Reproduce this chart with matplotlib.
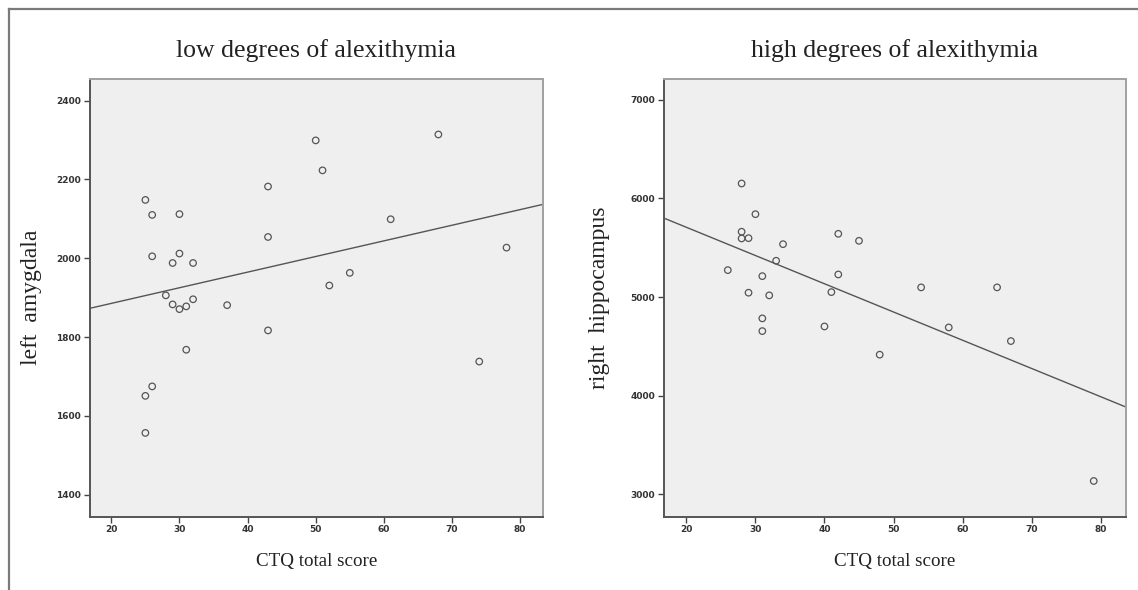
import numpy as np
import matplotlib
matplotlib.use('Agg')
import matplotlib.pyplot as plt
from matplotlib.lines import Line2D

# ---------------- data ----------------
low_ctq = [25, 26, 30, 26, 30, 29, 32, 43, 43, 50, 51, 68, 61, 78, 55, 52,
           28, 29, 30, 31, 32, 37, 43, 31, 74, 26, 25, 25]
low_amygdala = [2148, 2110, 2112, 2005, 2012, 1988, 1988, 2182, 2054, 2299, 2223,
                2314, 2099, 2027, 1963, 1931, 1906, 1883, 1871, 1878, 1896, 1881,
                1817, 1768, 1738, 1675, 1651, 1557]

high_ctq = [28, 30, 28, 28, 29, 34, 33, 26, 31, 42, 45, 42, 54, 65, 29, 32, 41,
            31, 31, 40, 48, 58, 67, 79]
high_hippocampus = [6152, 5841, 5663, 5595, 5598, 5537, 5369, 5274, 5213, 5642,
                    5571, 5230, 5099, 5099, 5045, 5018, 5051, 4785, 4656, 4703,
                    4417, 4693, 4555, 3137]

x_ticks = [20, 30, 40, 50, 60, 70, 80]
low_yticks = [1400, 1600, 1800, 2000, 2200, 2400]
high_yticks = [3000, 4000, 5000, 6000, 7000]

titles = ["low degrees of alexithymia", "high degrees of alexithymia"]
ylabels = ["left  amygdala", "right  hippocampus"]
xlabel = "CTQ total score"

# ---------------- layout ----------------
W, H = 1138, 590
fig = plt.figure(figsize=(W / 100, H / 100), dpi=100)
fig.patch.set_facecolor('white')

def fx(px):
    return px / W

def fy(py):
    return 1 - py / H

serif = ['Liberation Serif', 'DejaVu Serif']

panels = [
    dict(left=89.5, right=543.3, xlim=(16.8, 83.4), ylim=(1345, 2456),
         x=low_ctq, y=low_amygdala, yticks=low_yticks, title=titles[0],
         ylabel=ylabels[0], ylabel_x=31),
    dict(left=663.6, right=1125.5, xlim=(16.7, 83.6), ylim=(2777, 7216),
         x=high_ctq, y=high_hippocampus, yticks=high_yticks, title=titles[1],
         ylabel=ylabels[1], ylabel_x=600),
]
top, bottom = 78.5, 516.5

for p in panels:
    ax = fig.add_axes([fx(p['left']), fy(bottom), fx(p['right'] - p['left']),
                       (bottom - top) / H])
    ax.set_facecolor('#efefef')
    ax.set_xlim(*p['xlim'])
    ax.set_ylim(*p['ylim'])
    ax.set_xticks(x_ticks)
    ax.set_yticks(p['yticks'])
    ax.tick_params(direction='out', length=4.5, width=1.0, color='#444444',
                   labelsize=6.5, labelcolor='#333333', pad=1.5)
    for lab in ax.get_xticklabels() + ax.get_yticklabels():
        lab.set_fontweight('bold')
        lab.set_family('DejaVu Sans')
    for side in ['left', 'bottom']:
        ax.spines[side].set_color('#555555')
        ax.spines[side].set_linewidth(1.4)
    for side in ['top', 'right']:
        ax.spines[side].set_color('#a0a0a0')
        ax.spines[side].set_linewidth(1.4)

    ax.scatter(p['x'], p['y'], s=22, facecolors='none', edgecolors='#555555',
               linewidths=0.9, zorder=3)
    slope, intercept = np.polyfit(p['x'], p['y'], 1)
    xs = np.array(p['xlim'])
    ax.plot(xs, slope * xs + intercept, color='#555555', lw=1.0, zorder=2)

    cx = (p['left'] + p['right']) / 2
    fig.text(fx(cx), fy(57.5), p['title'], family=serif, fontsize=18.5,
             ha='center', va='baseline', color='#222222')
    fig.text(fx(cx), fy(566), xlabel, family=serif, fontsize=13.7,
             ha='center', va='baseline', color='#222222')
    fig.text(fx(p['ylabel_x']), fy(297.5), p['ylabel'], family=serif,
             fontsize=17, rotation=90, ha='center', va='center', color='#222222')

# outer frame (top and left only)
fig.add_artist(Line2D([fx(9), 1], [fy(9), fy(9)], transform=fig.transFigure,
                      color='#7a7a7a', lw=1.6))
fig.add_artist(Line2D([fx(9), fx(9)], [0, fy(9)], transform=fig.transFigure,
                      color='#7a7a7a', lw=1.6))

fig.savefig('out.png', dpi=100, facecolor='white')
